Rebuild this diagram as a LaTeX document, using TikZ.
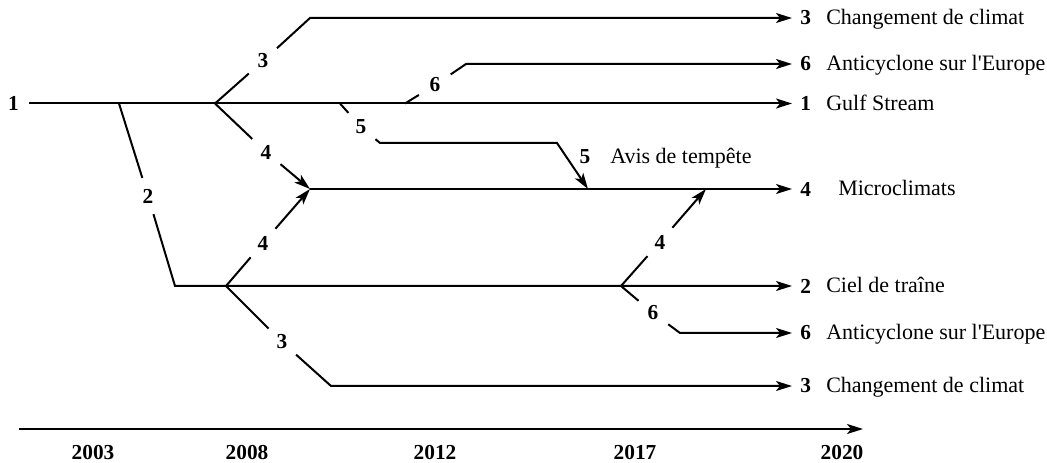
\documentclass[tikz,border=0pt]{standalone}
\usepackage{fontspec}
\setmainfont{Liberation Serif}
\usetikzlibrary{arrows.meta}
\begin{document}
\begin{tikzpicture}[x=0.75pt,y=-0.75pt,
  ln/.style={line width=1.5pt},
  arr/.style={ln,-{Stealth[length=12pt,width=7.5pt,inset=3pt]}},
  gap/.style={circle,inner sep=0pt,minimum size=28pt,font=\fontsize{16}{18}\selectfont\bfseries},
  num/.style={anchor=west,inner xsep=6pt,inner ysep=0pt,font=\fontsize{16}{18}\selectfont\bfseries},
  txt/.style={anchor=base west,inner sep=0pt,font=\fontsize{16.5}{18}\selectfont},
  yr/.style={inner sep=0pt,font=\fontsize{16}{18}\selectfont\bfseries}]
\useasboundingbox (0,0) rectangle (1047,463);

% left label
\node[num,anchor=east,inner xsep=7.5pt] (l1) at (29,103.5) {1};

% right-hand labels
\node[num] (r3) at (792,18) {3};
\node[txt] (t3) at (826,25) {Changement de climat};
\node[num] (r6a) at (792,64) {6};
\node[txt] (t6a) at (826,71) {Anticyclone sur l\textquotesingle Europe};
\node[num] (r1) at (792,103.5) {1};
\node[txt] (t1) at (826,110.5) {Gulf Stream};
\node[num] (r4) at (792,189) {4};
\node[txt] (t4) at (838,196) {Microclimats};
\node[num] (r2) at (792,286) {2};
\node[txt] (t2) at (826,293) {Ciel de traîne};
\node[num] (r6b) at (792,333) {6};
\node[txt] (t6b) at (826,340) {Anticyclone sur l\textquotesingle Europe};
\node[num] (r3b) at (792,386) {3};
\node[txt] (t3b) at (826,393) {Changement de climat};

% Avis de tempete
\node[yr] (n5) at (585,157) {5};
\node[txt] (t5) at (610,164) {Avis de tempête};

% gap labels
\node[gap] (L2) at (148,196) {2};
\node[gap] (L3a) at (263,61) {3};
\node[gap] (L4a) at (266,152) {4};
\node[gap] (L5) at (361,127) {5};
\node[gap] (L6a) at (435,85) {6};
\node[gap] (L4b) at (263,243) {4};
\node[gap] (L3b) at (282,342) {3};
\node[gap] (L4c) at (660,242) {4};
\node[gap] (L6b) at (653,313) {6};

% branch and bend points
\coordinate (b2) at (119,103.5);
\coordinate (b34) at (215,103.5);
\coordinate (b5) at (340,103.5);
\coordinate (b6) at (405,103.5);
\coordinate (c2) at (175,286);
\coordinate (c3) at (310,18);
\coordinate (m1) at (310,189);
\coordinate (c5a) at (380,143);
\coordinate (c5b) at (557,143);
\coordinate (m5) at (588,189);
\coordinate (c6) at (466,64);
\coordinate (blow) at (226,286);
\coordinate (c3b) at (331,386);
\coordinate (b17) at (621,286);
\coordinate (m2) at (706,189);
\coordinate (c6b) at (680,333);

% connectors
\draw[arr] (l1) -- (r1);
\draw[arr] (b2) -- (L2) -- (c2) -- (r2);
\draw[arr] (b34) -- (L3a) -- (c3) -- (r3);
\draw[arr] (b34) -- (L4a) -- (m1);
\draw[arr] (m1) -- (r4);
\draw[arr] (b5) -- (L5) -- (c5a) -- (c5b) -- (m5);
\draw[arr] (b6) -- (L6a) -- (c6) -- (r6a);
\draw[arr] (blow) -- (L4b) -- (m1);
\draw[arr] (blow) -- (L3b) -- (c3b) -- (r3b);
\draw[arr] (b17) -- (L4c) -- (m2);
\draw[arr] (b17) -- (L6b) -- (c6b) -- (r6b);

% time axis
\coordinate (ax0) at (19,429);
\coordinate (ax1) at (863,429);
\draw[arr] (ax0) -- (ax1);
\node[yr] (y03) at (93,453) {2003};
\node[yr] (y08) at (247,453) {2008};
\node[yr] (y12) at (435,453) {2012};
\node[yr] (y17) at (635,453) {2017};
\node[yr] (y20) at (842,453) {2020};
\end{tikzpicture}
\end{document}
